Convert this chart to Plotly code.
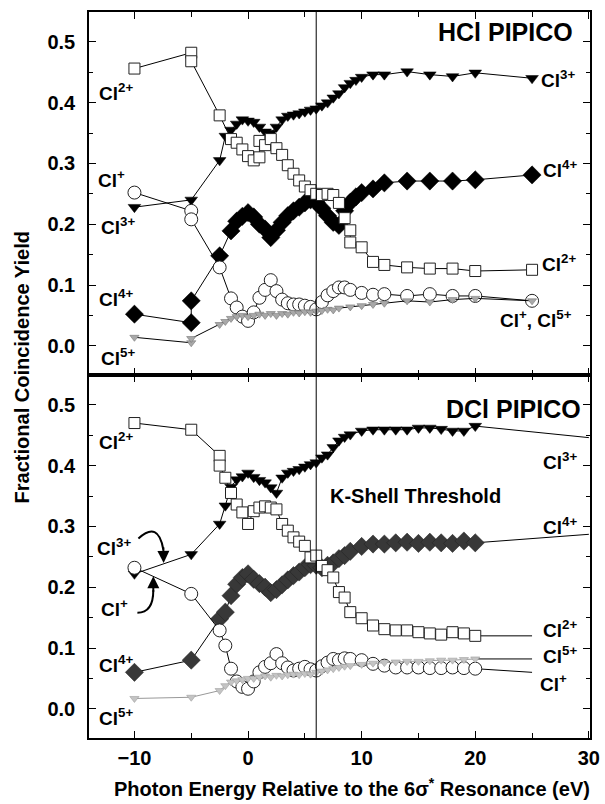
import plotly.graph_objects as go
from plotly.subplots import make_subplots

# ---------------- data: HCl PIPICO (top panel) ----------------
HCL_CL3_X = [-10, -5, -2.5, -2, -1.5, -1, -0.5, 0, 0.5, 1, 1.5, 2, 2.5, 3, 3.5, 4, 4.5, 5, 5.5, 6,
             6.5, 7, 7.5, 8, 8.5, 9, 9.5, 10, 11, 12, 14, 16, 18, 20, 25]
HCL_CL3_Y = [0.228, 0.240, 0.305, 0.345, 0.355, 0.365, 0.372, 0.370, 0.368, 0.360, 0.352, 0.350,
             0.360, 0.372, 0.378, 0.380, 0.382, 0.385, 0.388, 0.390, 0.395, 0.400, 0.408, 0.415,
             0.425, 0.432, 0.437, 0.442, 0.446, 0.446, 0.451, 0.446, 0.443, 0.449, 0.440]

HCL_CL4_X = [-10, -5, -5, -2.5, -1.5, -1, -0.5, 0, 0.5, 1, 1.5, 2, 2.5, 3, 3.5, 4, 4.5, 5, 5.5, 6,
             6.5, 7, 7.5, 8, 8.5, 9, 9.5, 10, 11, 12, 14, 16, 18, 20, 25]
HCL_CL4_Y = [0.052, 0.038, 0.074, 0.148, 0.189, 0.205, 0.213, 0.219, 0.212, 0.200, 0.192, 0.178,
             0.190, 0.203, 0.214, 0.222, 0.228, 0.235, 0.240, 0.236, 0.226, 0.214, 0.203, 0.198,
             0.222, 0.236, 0.245, 0.252, 0.258, 0.268, 0.271, 0.271, 0.271, 0.273, 0.281]

HCL_CL2_X = [-10, -5, -5, -2.5, -1.5, -1, -0.5, 0, 0.5, 1, 1, 1.5, 2, 2.5, 3, 3.5, 4, 4.5, 5, 5.5,
             6, 6.5, 7, 7.5, 8, 8.5, 9, 9, 10, 11, 12, 14, 16, 18, 20, 25]
HCL_CL2_Y = [0.456, 0.482, 0.468, 0.379, 0.340, 0.334, 0.323, 0.312, 0.305, 0.310, 0.337, 0.330,
             0.340, 0.325, 0.314, 0.297, 0.283, 0.272, 0.262, 0.256, 0.250, 0.248, 0.250, 0.248,
             0.235, 0.210, 0.190, 0.170, 0.162, 0.138, 0.133, 0.129, 0.127, 0.127, 0.123, 0.125]

HCL_CL1_X = [-10, -5, -5, -2.5, -1.5, -1, -0.5, 0, 0.5, 1, 1.5, 2, 2.5, 3, 3.5, 4, 4.5, 5, 5.5, 6,
             6.5, 7, 7.5, 8, 8.5, 9, 10, 11, 12, 14, 16, 18, 20, 25]
HCL_CL1_Y = [0.252, 0.222, 0.208, 0.129, 0.078, 0.063, 0.048, 0.041, 0.055, 0.079, 0.092, 0.108,
             0.090, 0.076, 0.070, 0.068, 0.068, 0.066, 0.064, 0.060, 0.072, 0.083, 0.090, 0.096,
             0.096, 0.092, 0.087, 0.084, 0.085, 0.082, 0.085, 0.082, 0.082, 0.074]

HCL_CL5_X = [-10, -5, -5, -2.5, -2, -1.5, -1, -0.5, 0, 0.5, 1, 1.5, 2, 2.5, 3, 3.5, 4, 4.5, 5, 5.5,
             6, 6.5, 7, 7.5, 8, 9, 10, 11, 12, 14, 16, 18, 20, 25]
HCL_CL5_Y = [0.014, 0.005, 0.012, 0.035, 0.040, 0.045, 0.048, 0.050, 0.048, 0.050, 0.052, 0.050,
             0.053, 0.050, 0.053, 0.052, 0.055, 0.054, 0.056, 0.055, 0.057, 0.058, 0.060, 0.059,
             0.062, 0.064, 0.066, 0.068, 0.070, 0.074, 0.072, 0.076, 0.078, 0.074]

# ---------------- data: DCl PIPICO (bottom panel) ----------------
DCL_X = [-10, -5, -2.5, -2, -1.5, -1, -0.5, 0, 0.5, 1, 1.5, 2, 2.5, 3, 3.5, 4, 4.5, 5, 5.5, 6,
         6.5, 7, 7.5, 8, 8.5, 9, 10, 11, 12, 13, 14, 15, 16, 17, 18, 19, 20]
DCL_CL3_Y = [0.222, 0.254, 0.304, 0.334, 0.365, 0.377, 0.382, 0.388, 0.381, 0.376, 0.372, 0.364,
             0.355, 0.380, 0.388, 0.391, 0.394, 0.398, 0.402, 0.405, 0.413, 0.418, 0.430, 0.441,
             0.447, 0.451, 0.457, 0.459, 0.459, 0.459, 0.459, 0.462, 0.462, 0.460, 0.457, 0.457, 0.465]
DCL_CL4_Y = [0.060, 0.080, 0.148, 0.159, 0.186, 0.205, 0.216, 0.222, 0.213, 0.206, 0.200, 0.191,
             0.196, 0.204, 0.212, 0.219, 0.225, 0.232, 0.237, 0.236, 0.232, 0.236, 0.240, 0.247,
             0.252, 0.259, 0.267, 0.271, 0.271, 0.273, 0.274, 0.272, 0.274, 0.273, 0.272, 0.276, 0.273]
DCL_CL1_Y = [0.232, 0.189, 0.129, 0.104, 0.066, 0.045, 0.036, 0.033, 0.045, 0.060, 0.069, 0.075,
             0.090, 0.075, 0.068, 0.063, 0.066, 0.069, 0.065, 0.063, 0.070, 0.076, 0.082, 0.080,
             0.083, 0.082, 0.080, 0.074, 0.071, 0.068, 0.068, 0.068, 0.067, 0.067, 0.068, 0.067, 0.066]
DCL_CL5_Y = [0.017, 0.019, 0.030, 0.038, 0.044, 0.046, 0.048, 0.050, 0.050, 0.052, 0.054, 0.052,
             0.055, 0.054, 0.056, 0.057, 0.056, 0.058, 0.057, 0.060, 0.062, 0.064, 0.066, 0.068,
             0.070, 0.071, 0.073, 0.075, 0.076, 0.077, 0.078, 0.078, 0.079, 0.080, 0.080, 0.081, 0.082]
DCL_CL2_X = [-10, -5, -2.5, -2.5, -2, -1.5, -1, -0.5, 0, 0.5, 1, 1.5, 2, 2.5, 3, 3.5, 4, 4.5, 5,
             5.5, 6, 6.5, 7, 7.5, 8, 8.5, 9, 10, 11, 12, 13, 14, 15, 16, 17, 18, 19, 20]
DCL_CL2_Y = [0.470, 0.459, 0.416, 0.400, 0.380, 0.355, 0.336, 0.323, 0.304, 0.325, 0.331, 0.333,
             0.331, 0.328, 0.304, 0.293, 0.282, 0.275, 0.268, 0.249, 0.252, 0.235, 0.228, 0.216,
             0.192, 0.183, 0.159, 0.149, 0.137, 0.131, 0.129, 0.129, 0.126, 0.124, 0.122, 0.126,
             0.124, 0.120]

# lines running on from the last DCl point towards the labels (no markers)
DCL_TAIL_X = {"Cl3+": 30, "Cl4+": 30, "Cl2+": 25, "Cl5+": 25, "Cl+": 25}
DCL_TAIL_Y = {"Cl3+": 0.446, "Cl4+": 0.287, "Cl2+": 0.120, "Cl5+": 0.082, "Cl+": 0.060}

THRESHOLD = 6.0
X_RANGE = [-14.0, 30.1]
Y_RANGE = [-0.048, 0.549]

FONT = "Liberation Sans, Arial, Helvetica, sans-serif"

fig = make_subplots(rows=2, cols=1, shared_xaxes=True, vertical_spacing=0)


def add_series(x, y, row, symbol, size, fill, edge, edgew, linecolor="black"):
    fig.add_trace(go.Scatter(
        x=x, y=y, mode="lines+markers",
        line=dict(color=linecolor, width=1),
        marker=dict(symbol=symbol, size=size, color=fill,
                    line=dict(color=edge, width=edgew)),
        showlegend=False, hoverinfo="skip"), row=row, col=1)


def add_tail(x, y, key, row, color="black"):
    fig.add_trace(go.Scatter(
        x=[x[-1], DCL_TAIL_X[key]], y=[y[-1], DCL_TAIL_Y[key]], mode="lines",
        line=dict(color=color, width=1), showlegend=False, hoverinfo="skip"),
        row=row, col=1)


# top panel: HCl
add_series(HCL_CL3_X, HCL_CL3_Y, 1, "triangle-down", 11, "black", "black", 0.5)
add_series(HCL_CL4_X, HCL_CL4_Y, 1, "diamond", 14, "black", "black", 0.5)
add_series(HCL_CL2_X, HCL_CL2_Y, 1, "square", 11, "white", "#222", 1)
add_series(HCL_CL1_X, HCL_CL1_Y, 1, "circle", 13, "white", "#222", 1)
add_series(HCL_CL5_X, HCL_CL5_Y, 1, "triangle-down", 8, "#a8a8a8", "#777", 0.6)

# bottom panel: DCl
add_tail(DCL_X, DCL_CL3_Y, "Cl3+", 2)
add_tail(DCL_X, DCL_CL4_Y, "Cl4+", 2)
add_tail(DCL_CL2_X, DCL_CL2_Y, "Cl2+", 2)
add_tail(DCL_X, DCL_CL5_Y, "Cl5+", 2)
add_tail(DCL_X, DCL_CL1_Y, "Cl+", 2)
add_series(DCL_X, DCL_CL3_Y, 2, "triangle-down", 11, "black", "black", 0.5)
add_series(DCL_X, DCL_CL4_Y, 2, "diamond", 14, "#383838", "#222", 0.5)
add_series(DCL_CL2_X, DCL_CL2_Y, 2, "square", 11, "white", "#222", 1)
add_series(DCL_X, DCL_CL1_Y, 2, "circle", 13, "white", "#222", 1)
add_series(DCL_X, DCL_CL5_Y, 2, "triangle-down", 8, "#c4c4c4", "#a0a0a0", 0.6, linecolor="#999")

axis_common = dict(showline=True, linewidth=1.5, linecolor="black", mirror="allticks",
                   ticks="inside", ticklen=7, tickwidth=1, tickcolor="black",
                   showgrid=False, zeroline=False, automargin=False)

for r in (1, 2):
    fig.update_xaxes(range=X_RANGE, tick0=0, dtick=10,
                     minor=dict(dtick=5, ticks="inside", ticklen=5, tickcolor="black"),
                     row=r, col=1, **axis_common)
    fig.update_yaxes(range=Y_RANGE, tick0=0, dtick=0.1, tickformat=".1f",
                     minor=dict(dtick=0.05, ticks="inside", ticklen=4, tickcolor="black"),
                     tickfont=dict(family=FONT, size=20, color="black", weight="bold"),
                     ticklabelstandoff=8,
                     row=r, col=1, **axis_common)

fig.update_xaxes(showticklabels=False, row=1, col=1)
fig.update_xaxes(tickfont=dict(family=FONT, size=20, color="black", weight="bold"),
                 ticklabelstandoff=1, row=2, col=1)

# threshold line through both panels
fig.add_shape(type="line", xref="x", yref="paper", x0=THRESHOLD, x1=THRESHOLD, y0=0, y1=1,
              line=dict(color="black", width=1))

# curved arrows in the DCl panel
fig.add_shape(type="path", xref="x2", yref="y2",
              path="M -9.65,0.280 Q -7.9,0.310 -7.46,0.262",
              line=dict(color="black", width=2))
fig.add_shape(type="path", xref="x2", yref="y2",
              path="M -9.74,0.158 Q -8.34,0.158 -8.34,0.195",
              line=dict(color="black", width=2))

annots = []


def label(text, x, y, ref, size=19, xanchor="left"):
    annots.append(dict(text=text, x=x, y=y, xref="x" if ref == 1 else "x2",
                       yref="y" if ref == 1 else "y2", xanchor=xanchor, yanchor="middle",
                       showarrow=False,
                       font=dict(family=FONT, size=size, color="black", weight="bold")))


# top panel labels
label("Cl<sup>2+</sup>", -13.3, 0.417, 1)
label("Cl<sup>+</sup>", -13.35, 0.274, 1)
label("Cl<sup>3+</sup>", -13.15, 0.197, 1)
label("Cl<sup>4+</sup>", -13.3, 0.078, 1)
label("Cl<sup>5+</sup>", -13.15, -0.019, 1)
label("HCl PIPICO", 28.8, 0.516, 1, size=25, xanchor="right")
label("Cl<sup>3+</sup>", 25.6, 0.438, 1)
label("Cl<sup>4+</sup>", 25.75, 0.290, 1)
label("Cl<sup>2+</sup>", 25.7, 0.137, 1)
label("Cl<sup>+</sup>, Cl<sup>5+</sup>", 22.0, 0.044, 1)

# bottom panel labels
label("Cl<sup>2+</sup>", -13.3, 0.440, 2)
label("Cl<sup>3+</sup>", -13.45, 0.266, 2)
label("Cl<sup>+</sup>", -13.15, 0.165, 2)
label("Cl<sup>4+</sup>", -13.3, 0.073, 2)
label("Cl<sup>5+</sup>", -13.3, -0.014, 2)
label("DCl PIPICO", 29.5, 0.493, 2, size=25, xanchor="right")
label("Cl<sup>3+</sup>", 25.75, 0.407, 2)
label("K-Shell Threshold", 7.0, 0.350, 2, size=20)
label("Cl<sup>4+</sup>", 25.75, 0.301, 2)
label("Cl<sup>2+</sup>", 25.75, 0.132, 2)
label("Cl<sup>5+</sup>", 25.75, 0.088, 2)
label("Cl<sup>+</sup>", 25.5, 0.042, 2)

# arrowheads
annots.append(dict(x=-7.43, y=0.240, ax=-7.46, ay=0.268, xref="x2", yref="y2",
                   axref="x2", ayref="y2", showarrow=True, arrowhead=2, arrowsize=1.2,
                   arrowwidth=2, arrowcolor="black", text=""))
annots.append(dict(x=-8.34, y=0.218, ax=-8.34, ay=0.190, xref="x2", yref="y2",
                   axref="x2", ayref="y2", showarrow=True, arrowhead=2, arrowsize=1.2,
                   arrowwidth=2, arrowcolor="black", text=""))

# axis titles
annots.append(dict(text="Fractional Coincidence Yield", xref="paper", yref="paper",
                   x=-0.133, y=0.511, textangle=-90, showarrow=False,
                   xanchor="center", yanchor="middle",
                   font=dict(family=FONT, size=20, color="black", weight="bold")))
annots.append(dict(text="Photon Energy Relative to the 6σ<sup>*</sup> Resonance (eV)",
                   xref="paper", yref="paper", x=0.525, y=-0.068, showarrow=False,
                   xanchor="center", yanchor="middle",
                   font=dict(family=FONT, size=20, color="black", weight="bold")))

fig.update_layout(width=605, height=804, margin=dict(l=89, r=15, t=12, b=66),
                  plot_bgcolor="white", paper_bgcolor="white", annotations=annots,
                  showlegend=False)

fig.write_html("out.html", config={"displayModeBar": False},
               post_script="document.body.style.margin='0px';"
                           "document.body.style.overflow='hidden';")
